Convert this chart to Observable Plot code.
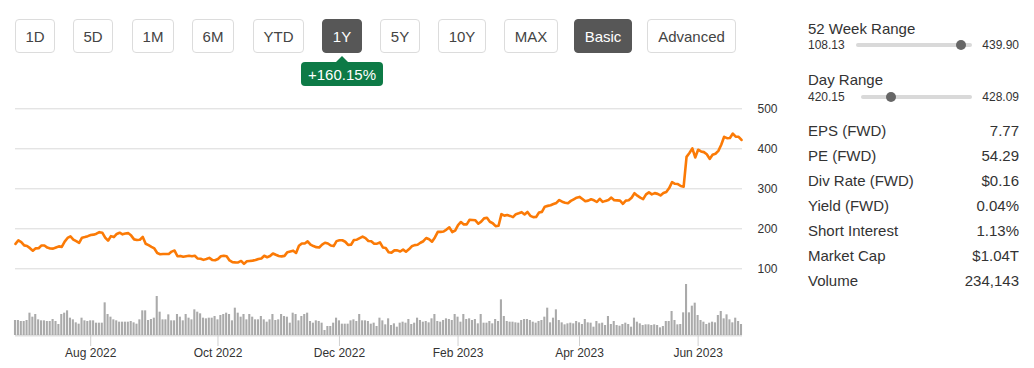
<!DOCTYPE html>
<html><head><meta charset="utf-8">
<script src="https://cdn.jsdelivr.net/npm/d3@7"></script>
<script src="https://cdn.jsdelivr.net/npm/@observablehq/plot@0.6"></script>
<style>
body{margin:0;background:#fff;font-family:Arial,"Liberation Sans",sans-serif;color:#333;}
#page{position:relative;width:1034px;height:368px;overflow:hidden;}
.btn{position:absolute;top:19px;height:34px;box-sizing:border-box;border:1px solid #dcdcdc;border-radius:4px;background:#fff;color:#444;font-size:15px;display:flex;align-items:center;justify-content:center;}
.btn.on{background:#575757;border-color:#575757;color:#fff;}
.abs{position:absolute;white-space:nowrap;}
.t15{font-size:15px;line-height:17px;}
.t12{font-size:12px;line-height:14px;}
.bar{position:absolute;height:4px;background:#d9d9d9;border-radius:2px;}
.knob{position:absolute;width:10px;height:10px;border-radius:5px;background:#666;}
.svgwrap{position:absolute;left:0;}
</style>
</head><body><div id="page"></div>
<script>
// ---------- data ----------
const periods = ["1D","5D","1M","6M","YTD","1Y","5Y","10Y","MAX"];
const modes = ["Basic","Advanced"];
const activeButtons = ["1Y","Basic"];
const changeLabel = "+160.15%";
const lastPrice = 422.09;
const rangeLabels = ["52 Week Range","Day Range"];
const rangeLows = [108.13, 420.15];
const rangeHighs = [439.90, 428.09];
const statLabels = ["EPS (FWD)","PE (FWD)","Div Rate (FWD)","Yield (FWD)","Short Interest","Market Cap","Volume"];
const statValues = ["7.77","54.29","$0.16","0.04%","1.13%","$1.04T","234,143"];
const startDate = "2022-06-23";
const holidays = ["2022-07-04","2022-09-05","2022-11-24","2022-12-26","2023-01-02","2023-01-16","2023-02-20","2023-04-07","2023-05-29","2023-06-19"];
const yTicks = [100,200,300,400,500];
const closes = [162.3,171.3,166.9,158.6,157.0,151.6,145.2,151.1,151.3,158.4,
158.1,153.0,150.8,150.5,153.3,156.0,154.9,167.9,177.1,181.1,
173.2,169.3,165.0,177.8,179.3,181.6,184.4,185.4,187.7,191.6,
190.3,177.9,170.3,181.7,179.3,187.1,190.2,186.1,188.2,189.2,
183.0,173.6,172.1,172.6,179.8,162.6,159.0,154.8,150.9,139.4,
136.5,137.1,136.9,137.1,143.0,145.6,131.3,132.2,130.0,131.3,
132.5,131.5,132.6,125.6,125.2,122.3,124.5,127.4,122.2,121.4,
124.6,131.4,132.6,131.3,120.8,116.7,116.0,115.9,119.6,112.3,
118.9,119.7,120.5,121.9,124.7,125.9,132.6,128.9,131.8,138.3,
135.0,132.0,131.0,132.3,141.6,143.4,145.3,139.7,157.5,163.3,
163.3,168.6,160.4,156.8,154.1,153.2,160.4,165.2,163.2,158.3,
156.8,169.2,171.4,171.3,167.6,159.9,160.2,171.9,172.8,176.5,
180.4,176.6,169.6,168.8,162.6,162.8,165.9,153.4,152.1,141.2,
140.4,146.0,146.1,143.2,148.0,142.7,148.6,156.3,159.1,160.0,
165.1,168.9,177.0,173.8,167.7,178.4,192.3,192.4,193.2,198.0,
203.7,191.9,195.4,209.4,217.0,211.0,211.0,222.5,222.1,221.2,
212.7,218.0,226.1,227.7,217.6,213.9,206.6,207.6,236.6,232.9,
234.4,232.2,229.2,236.6,238.9,241.6,235.9,242.1,232.4,229.1,
229.7,240.6,242.3,255.4,257.3,259.0,261.9,264.7,271.9,267.8,
265.3,264.1,269.8,273.8,277.8,279.7,274.5,268.8,270.4,273.8,
271.3,267.0,275.1,267.3,269.8,271.8,278.0,271.6,271.0,270.4,
262.4,270.4,271.3,277.5,288.9,282.8,278.0,274.2,286.0,291.0,
286.0,289.2,287.3,283.4,289.5,292.1,301.8,316.8,312.6,311.8,
306.9,305.4,379.8,389.5,401.1,378.3,397.7,393.3,391.7,386.5,
374.8,385.1,387.7,394.8,410.2,430.0,426.5,426.9,438.1,430.3,
430.0,422.1];
// volume in millions of shares
const volumes = [45,45,42,42,45,67,55,63,47,44,
44,42,42,48,42,33,63,67,74,52,
47,38,34,52,44,42,44,44,37,37,
37,98,63,55,47,44,40,40,40,40,
42,38,34,47,74,74,45,48,52,117,
70,47,47,62,44,44,63,55,44,63,
52,47,77,
70,65,52,50,52,52,57,47,60,63,67,63,44,82,67,55,63,47,63,55,47,47,57,47,40,47,63,45,47,63,57,55,37,67,63,44,57,63,67,42,37,44,42,37,
15,
27,27,37,52,44,34,34,34,44,47,42,63,44,44,42,34,37,27,52,44,32,
50,30,35,25,37,40,37,48,33,37,52,45,40,42,38,50,63,42,40,45,50,48,45,63,55,40,63,48,50,45,48,35,63,37,37,42,35,48,42,
107,
57,42,40,40,38,37,45,48,48,45,40,37,42,45,55,
82,
38,52,77,45,38,32,35,37,
35,42,38,33,48,38,37,25,42,35,37,30,57,33,42,30,28,33,37,33,25,52,40,35,30,32,32,30,32,30,23,27,42,42,72,45,32,33,68,
153,
68,88,97,60,45,40,33,37,40,38,60,72,50,62,47,38,52,42,33];

// ---------- layout ----------
const page = document.getElementById("page");
function el(cls, style, text){const d=document.createElement("div");d.className=cls;Object.assign(d.style,style);if(text!=null)d.textContent=text;page.appendChild(d);return d;}
const btnBoxes = [[15,40],[73,40],[132,42],[192,42],[253,51],[322,40],[380,40],[438,48],[504,54],[574,58],[647,89]];
[...periods,...modes].forEach((lab,i)=>{
  el("btn"+(activeButtons.includes(lab)?" on":""),{left:btnBoxes[i][0]+"px",width:btnBoxes[i][1]+"px"},lab);
});
// change badge
el("abs",{left:"336px",top:"56px",width:"0",height:"0",borderLeft:"6px solid transparent",borderRight:"6px solid transparent",borderBottom:"6px solid #0d7a46"});
el("abs",{left:"301px",top:"62px",width:"82px",height:"24px",background:"#0d7a46",borderRadius:"4px",color:"#fff",fontSize:"15px",display:"flex",alignItems:"center",justifyContent:"center"},changeLabel);

// range sliders
const rangeBase=[33.5,84.5], rangeNum=[49,101.5], barTop=[43,95];
rangeLabels.forEach((lab,i)=>{
  el("abs t15",{left:"808px",top:(rangeBase[i]-13.7)+"px"},lab);
  el("abs t12",{left:"808px",top:(rangeNum[i]-11.2)+"px"},rangeLows[i].toFixed(2));
  el("abs t12",{right:"15px",top:(rangeNum[i]-11.2)+"px"},rangeHighs[i].toFixed(2));
  const bl=i===0?856:861, bw=i===0?116:111;
  el("bar",{left:bl+"px",top:barTop[i]+"px",width:bw+"px"});
  const f=(lastPrice-rangeLows[i])/(rangeHighs[i]-rangeLows[i]);
  el("knob",{left:(bl+f*(bw-10))+"px",top:(barTop[i]-3)+"px"});
});
statLabels.forEach((lab,i)=>{
  const top=(136+25*i-13.7)+"px";
  el("abs t15",{left:"808px",top},lab);
  el("abs t15",{right:"15px",top},statValues[i]);
});

// ---------- chart data ----------
const hol=new Set(holidays);
const dates=[];
let d=new Date(startDate+"T00:00:00Z");
while(dates.length<closes.length){const s=d.toISOString().slice(0,10);const wd=d.getUTCDay();if(wd!==0&&wd!==6&&!hol.has(s))dates.push(new Date(d));d=new Date(d.getTime()+86400000);}
const rows=closes.map((c,i)=>({i,date:dates[i],close:c,volume:volumes[i]}));
const n=rows.length;
const tickIdx=rows.filter((r,i)=>i>0&&r.date.getUTCMonth()!==rows[i-1].date.getUTCMonth()&&r.date.getUTCMonth()%2===1).map(r=>r.i);
const fmt=d3.utcFormat("%b %Y");
const font='Arial,"Liberation Sans",sans-serif';
const xOpt={domain:[0,n-1],range:[15,741],axis:null};

const priceTop=95;
const price=Plot.plot({
  width:790,height:180,marginLeft:15,marginRight:48,marginTop:0,marginBottom:0,
  x:xOpt,
  y:{domain:[100,500],range:[268.3-priceTop,108.3-priceTop],axis:null},
  style:{fontFamily:font,fontSize:"12px",color:"#333",background:"transparent",overflow:"visible"},
  marks:[
    Plot.ruleY(yTicks,{stroke:"#d9d9d9",strokeWidth:1}),
    Plot.axisY(yTicks,{anchor:"right",tickSize:0,tickPadding:15,fontSize:12,fill:"#333",label:null}),
    Plot.line(rows,{x:"i",y:"close",stroke:"#fb7a06",strokeWidth:2.6,strokeLinejoin:"round"})
  ]
});
const w1=el("svgwrap",{top:priceTop+"px"});w1.appendChild(price);

const volTop=270;
const vol=Plot.plot({
  width:790,height:98,marginLeft:15,marginRight:48,marginTop:0,marginBottom:33,
  x:xOpt,
  y:{domain:[0,153],range:[335-volTop,284-volTop],axis:null},
  style:{fontFamily:font,fontSize:"12px",color:"#333",background:"transparent",overflow:"visible"},
  marks:[
    Plot.ruleY([0],{stroke:"#dedede",strokeWidth:2}),
    Plot.rectY(rows,{x1:r=>r.i-0.36,x2:r=>r.i+0.36,y1:0,y2:"volume",fill:"#aaa"}),
    Plot.axisX(tickIdx,{tickSize:11,tickPadding:2,tickFormat:i=>fmt(dates[i]),stroke:"#d0d0d0",fill:"#333",fontSize:12,label:null})
  ]
});
const w2=el("svgwrap",{top:volTop+"px"});w2.appendChild(vol);
</script>
</body></html>
